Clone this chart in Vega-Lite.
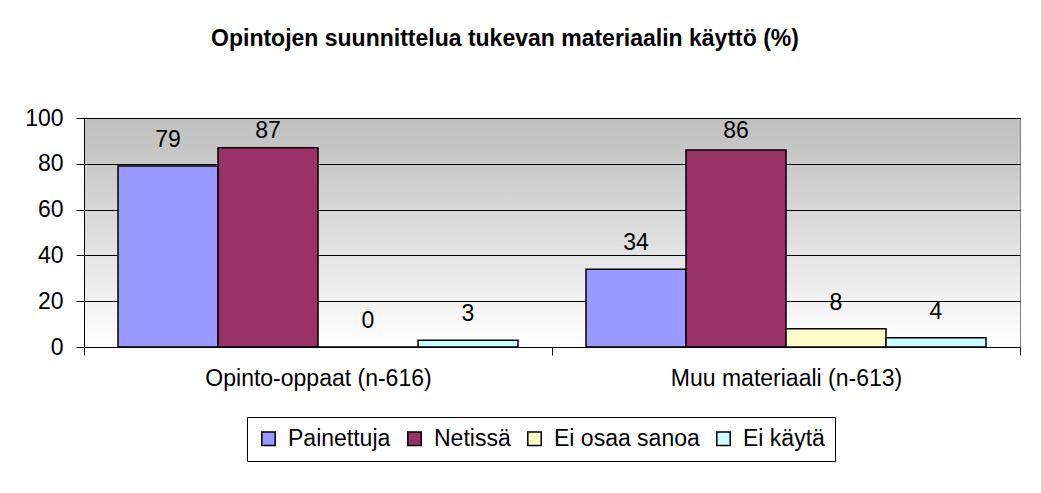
{
  "$schema": "https://vega.github.io/schema/vega-lite/v6.json",
  "autosize": "none",
  "width": 936,
  "height": 229,
  "padding": {"left": 84, "top": 118, "right": 21, "bottom": 146},
  "background": "white",
  "title": {
    "text": "Opintojen suunnittelua tukevan materiaalin käyttö (%)",
    "font": "Liberation Sans",
    "fontSize": 23,
    "fontWeight": "bold",
    "color": "black",
    "anchor": "middle",
    "dx": -47,
    "offset": 56
  },
  "config": {
    "font": "Liberation Sans",
    "view": {
      "stroke": "#808080",
      "fill": {"gradient": "linear", "x1": 0, "y1": 0, "x2": 0, "y2": 1, "stops": [{"offset": 0, "color": "#c0c0c0"}, {"offset": 0.15, "color": "#c6c6c6"}, {"offset": 1, "color": "#ffffff"}]}
    },
    "axis": {"labelFont": "Liberation Sans", "labelFontSize": 23, "labelColor": "black", "domainColor": "black", "tickColor": "black", "title": null}
  },
  "data": {
    "values": [
      {"group": "Opinto-oppaat (n-616)", "series": "Painettuja", "value": 79},
      {"group": "Opinto-oppaat (n-616)", "series": "Netissä", "value": 87},
      {"group": "Opinto-oppaat (n-616)", "series": "Ei osaa sanoa", "value": 0},
      {"group": "Opinto-oppaat (n-616)", "series": "Ei käytä", "value": 3},
      {"group": "Muu materiaali (n-613)", "series": "Painettuja", "value": 34},
      {"group": "Muu materiaali (n-613)", "series": "Netissä", "value": 86},
      {"group": "Muu materiaali (n-613)", "series": "Ei osaa sanoa", "value": 8},
      {"group": "Muu materiaali (n-613)", "series": "Ei käytä", "value": 4}
    ]
  },
  "encoding": {
    "x": {
      "field": "group", "type": "nominal", "sort": null,
      "scale": {"paddingInner": 0, "paddingOuter": 0},
      "axis": {"labelAngle": 0, "tickBand": "extent", "tickSize": 8, "labelPadding": 12, "labelFontSize": 23, "labelLimit": 0, "domainWidth": 1, "grid": false}
    },
    "xOffset": {
      "field": "series", "type": "nominal",
      "sort": ["Painettuja", "Netissä", "Ei osaa sanoa", "Ei käytä"],
      "scale": {"paddingInner": 0, "paddingOuter": 0.34}
    },
    "y": {
      "field": "value", "type": "quantitative",
      "scale": {"domain": [0, 100], "nice": false},
      "axis": {"values": [0, 20, 40, 60, 80, 100], "tickSize": 8, "labelPadding": 13, "grid": true, "gridColor": "black", "gridWidth": 1, "domain": true}
    }
  },
  "layer": [
    {
      "mark": {"type": "bar", "stroke": "black", "strokeWidth": 1.5},
      "encoding": {
        "color": {
          "field": "series", "type": "nominal",
          "sort": ["Painettuja", "Netissä", "Ei osaa sanoa", "Ei käytä"],
          "scale": {"domain": ["Painettuja", "Netissä", "Ei osaa sanoa", "Ei käytä"], "range": ["#9999ff", "#993366", "#ffffcc", "#ccffff"]},
          "legend": {
            "title": null,
            "orient": "none",
            "direction": "horizontal",
            "legendX": 163,
            "legendY": 299,
            "symbolType": "square",
            "symbolSize": 180,
            "symbolStrokeColor": "black",
            "symbolStrokeWidth": 1.5,
            "symbolOpacity": 1,
            "labelFont": "Liberation Sans",
            "labelFontSize": 23,
            "labelColor": "black",
            "labelOffset": 8,
            "columnPadding": 12,
            "strokeColor": "black",
            "padding": 10,
            "fillColor": "white"
          }
        }
      }
    },
    {
      "mark": {"type": "text", "fontSize": 23, "font": "Liberation Sans", "color": "black", "baseline": "alphabetic", "dy": {"expr": "max(-19, 20 - scale('y', datum.value))"}},
      "encoding": {
        "text": {"field": "value", "type": "quantitative"}
      }
    }
  ]
}
